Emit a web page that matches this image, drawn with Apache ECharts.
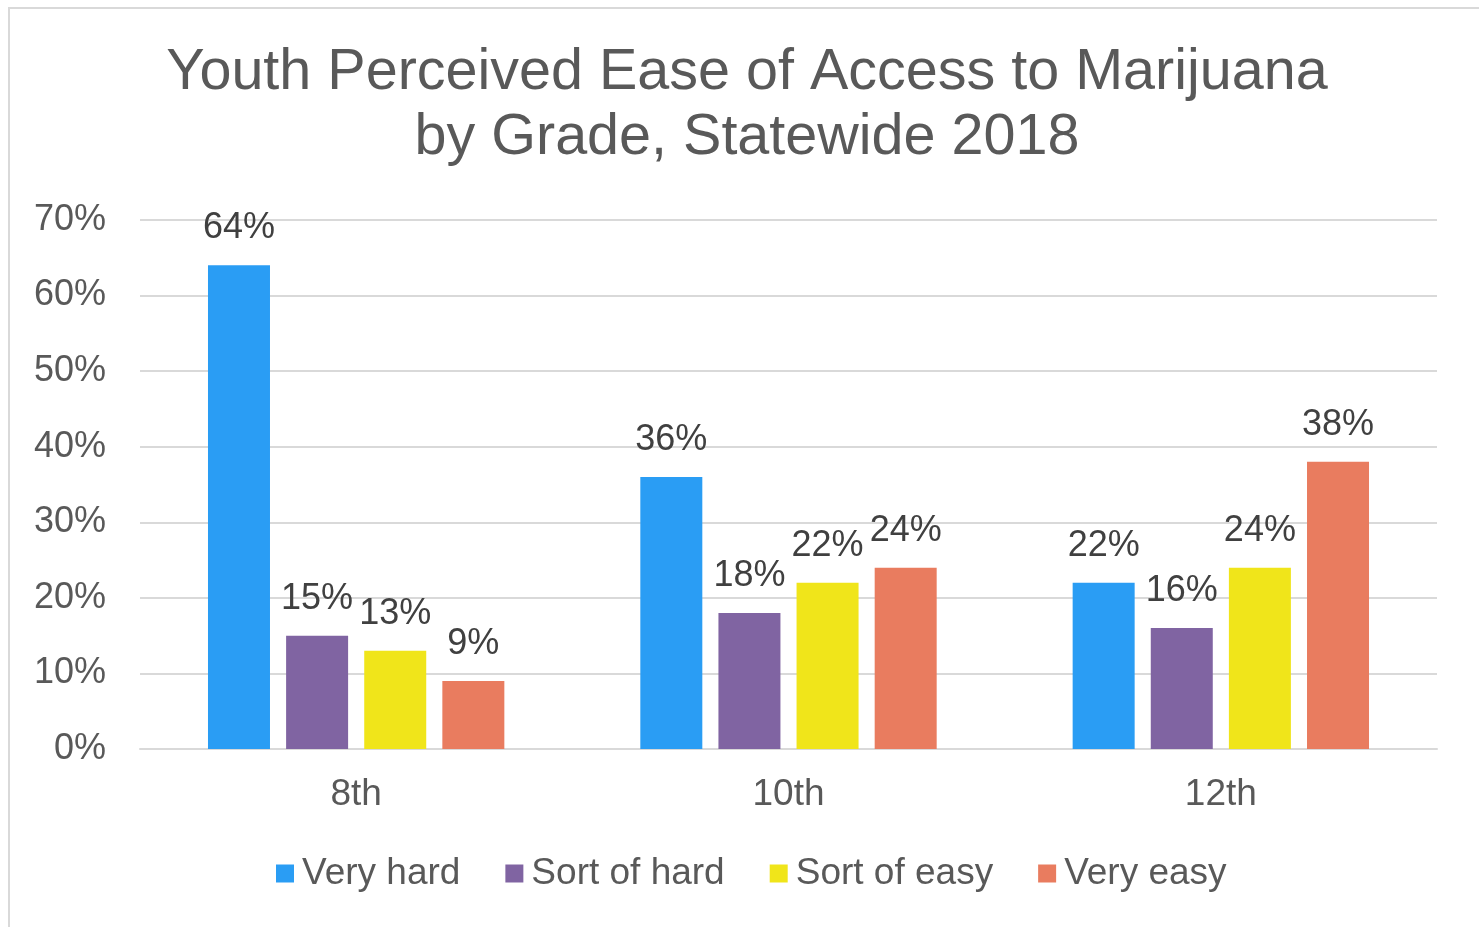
<!DOCTYPE html>
<html>
<head>
<meta charset="utf-8">
<script src="https://cdn.jsdelivr.net/npm/echarts@6/dist/echarts.min.js"></script>
<style>
  html, body { margin: 0; padding: 0; background: #fff; }
  #chart { width: 1479px; height: 927px; }
</style>
</head>
<body>
<div id="chart"></div>
<script>
// Grades on the x axis
const grades = ['8th', '10th', '12th'];
// Share of students (%) per answer
const veryHard = [64, 36, 22];
const sortOfHard = [15, 18, 16];
const sortOfEasy = [13, 22, 24];
const veryEasy = [9, 24, 38];
const seriesNames = ['Very hard', 'Sort of hard', 'Sort of easy', 'Very easy'];
const seriesColors = ['#2a9df4', '#8064a2', '#f0e51a', '#e97c5f'];
const seriesValues = [veryHard, sortOfHard, sortOfEasy, veryEasy];

const FONT = '"Liberation Sans", Arial, sans-serif';

const chart = echarts.init(document.getElementById('chart'), null, { renderer: 'canvas' });

const series = seriesNames.map((name, i) => ({
  name: name,
  type: 'bar',
  data: seriesValues[i],
  barWidth: 62,
  barGap: '26%',
  itemStyle: { color: seriesColors[i] },
  label: {
    show: true,
    position: 'top',
    distance: 19,
    formatter: '{c}%',
    color: '#404040',
    fontFamily: FONT,
    fontSize: 36
  }
}));

chart.setOption({
  backgroundColor: '#ffffff',
  animation: false,
  title: {
    text: 'Youth Perceived Ease of Access to Marijuana\nby Grade, Statewide 2018',
    left: 742,
    top: 36,
    textAlign: 'center',
    textStyle: {
      color: '#595959',
      fontFamily: FONT,
      fontWeight: 'normal',
      fontSize: 57.5,
      lineHeight: 65
    }
  },
  legend: {
    data: seriesNames,
    left: 271,
    top: 850,
    itemWidth: 18,
    itemHeight: 18,
    itemGap: 45,
    icon: 'rect',
    textStyle: {
      color: '#595959',
      fontFamily: FONT,
      fontSize: 37,
      padding: [0, 0, 0, 3]
    }
  },
  grid: { left: 140, right: 42, top: 220, bottom: 178, containLabel: false },
  xAxis: {
    type: 'category',
    data: grades,
    axisTick: { show: false },
    axisLine: { show: true, lineStyle: { color: '#d9d9d9', width: 2 } },
    axisLabel: {
      color: '#595959',
      fontFamily: FONT,
      fontSize: 37,
      margin: 27
    }
  },
  yAxis: {
    type: 'value',
    min: 0,
    max: 70,
    interval: 10,
    axisLine: { show: false },
    axisTick: { show: false },
    splitLine: { lineStyle: { color: '#d9d9d9', width: 2 } },
    axisLabel: {
      formatter: '{value}%',
      color: '#595959',
      fontFamily: FONT,
      fontSize: 36,
      margin: 34
    }
  },
  graphic: [
    { type: 'line', shape: { x1: 9, y1: 8, x2: 9, y2: 927 }, style: { stroke: '#d9d9d9', lineWidth: 2 } },
    { type: 'line', shape: { x1: 8, y1: 8, x2: 1479, y2: 8 }, style: { stroke: '#d9d9d9', lineWidth: 2 } }
  ],
  series: series
});
</script>
</body>
</html>
